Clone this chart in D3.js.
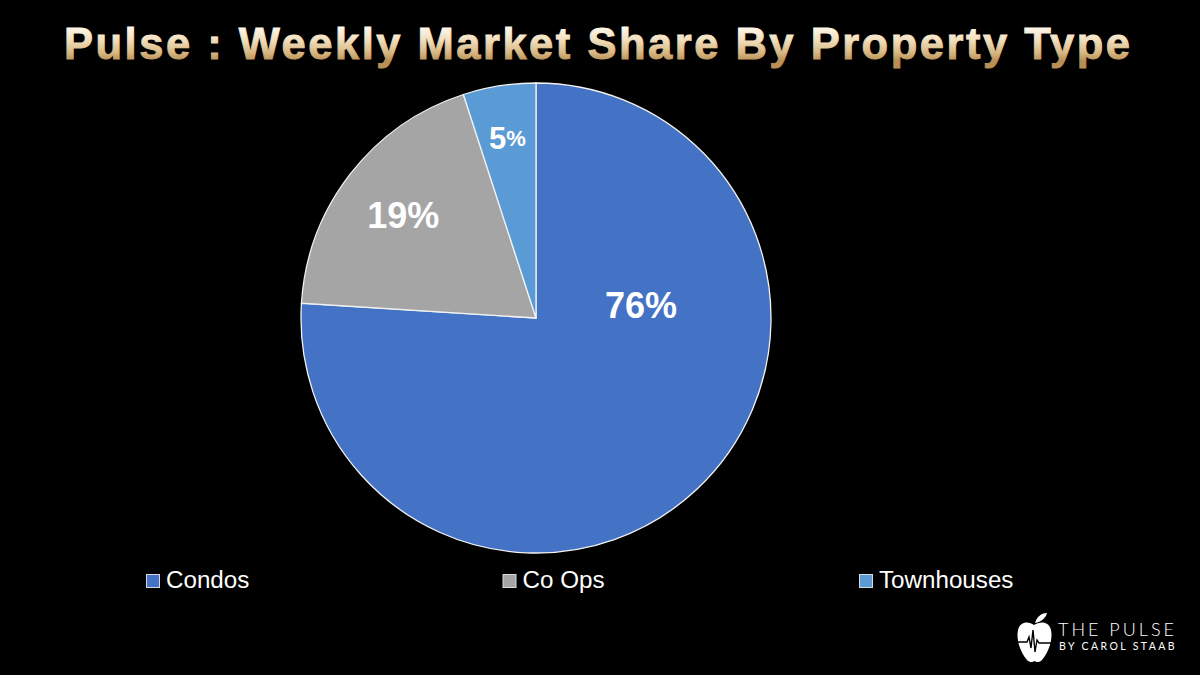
<!DOCTYPE html>
<html><head><meta charset="utf-8">
<script src="https://cdn.jsdelivr.net/npm/d3@7"></script>
<style>html,body{margin:0;padding:0;background:#000;}svg{display:block;}</style>
</head><body>
<svg id="c" width="1200" height="675"></svg>
<script>
const categories = ["Condos", "Co Ops", "Townhouses"];
const values = [76, 19, 5];
const colors = ["#4472C4", "#A5A5A5", "#5B9BD5"];
const titleText = "Pulse : Weekly Market Share By Property Type";

const svg = d3.select("#c");
svg.append("rect").attr("width",1200).attr("height",675).attr("fill","#000");

const defs = svg.append("defs");
const g1 = defs.append("linearGradient").attr("id","gold")
  .attr("gradientUnits","userSpaceOnUse").attr("x1",0).attr("x2",0).attr("y1",26).attr("y2",61);
g1.append("stop").attr("offset","0%").attr("stop-color","#fffaf0");
g1.append("stop").attr("offset","40%").attr("stop-color","#f1dfbd");
g1.append("stop").attr("offset","75%").attr("stop-color","#d9b985");
g1.append("stop").attr("offset","100%").attr("stop-color","#b88f55");

svg.append("text").attr("x",64).attr("y",59)
  .attr("textLength",1066).attr("lengthAdjust","spacing")
  .attr("font-family","Liberation Sans, Arial, sans-serif").attr("font-weight","bold")
  .attr("font-size",43.5).attr("fill","url(#gold)")
  .attr("stroke","url(#gold)").attr("stroke-width",0.9)
  .text(titleText);

// pie
const cx = 536, cy = 318, r = 235;
const pie = d3.pie().sort(null).value(d=>d);
const arcs = pie(values);
const arc = d3.arc().innerRadius(0).outerRadius(r);
const pg = svg.append("g").attr("transform",`translate(${cx},${cy})`);
pg.selectAll("path").data(arcs).enter().append("path")
  .attr("d",arc).attr("fill",(d,i)=>colors[i])
  .attr("stroke","#f2f2f2").attr("stroke-width",1.3);

// labels
const fmt = v => Math.round(v/d3.sum(values)*100);
arcs.forEach((d,i)=>{
  let pos;
  if (i === 0) {
    const a = d.startAngle + (d.endAngle-d.startAngle)*0.305;
    const rr = r*0.45;
    pos = [Math.sin(a)*rr, -Math.cos(a)*rr];
  } else {
    const rr = i===1 ? r*0.715 : r*0.777;
    pos = d3.arc().innerRadius(rr).outerRadius(rr).centroid(d);
  }
  const t = pg.append("text").attr("x",pos[0]).attr("y",pos[1])
    .attr("text-anchor","middle").attr("dominant-baseline","central")
    .attr("font-family","Liberation Sans, Arial, sans-serif").attr("font-weight","bold")
    .attr("fill","#fff");
  if (i === 2) {
    t.attr("font-size",31);
    t.append("tspan").text(fmt(d.data));
    t.append("tspan").attr("font-size",22).text("%");
  } else {
    t.attr("font-size",36).text(fmt(d.data)+"%");
  }
});

// legend
const legX = d3.scalePoint().domain(categories).range([146, 859]);
const lg = svg.append("g");
categories.forEach((c,i)=>{
  const x = legX(c);
  lg.append("rect").attr("x",x+0.5).attr("y",574.5).attr("width",13).attr("height",13)
    .attr("fill",colors[i]).attr("stroke","#d9d9d9").attr("stroke-width",1);
  lg.append("text").attr("x",x+20).attr("y",588)
    .attr("font-family","Liberation Sans, Arial, sans-serif").attr("font-size",24.2)
    .attr("fill","#fff").text(c);
});

// logo
const logo = svg.append("g").attr("transform","translate(1017,612)");
logo.append("path").attr("fill","#fff")
  .attr("d","M17,13 C12,9 3,9 1,18 C-1,27 3,40 10,48 C13,51 16,50 17.5,49 C19,50 22,51 25,48 C32,40 36,27 34,18 C32,9 23,9 17,13 Z");
logo.append("path").attr("fill","#fff")
  .attr("d","M18,11 C20,4 25,1 30,1 C29,6 24,10 18,11 Z");
logo.append("path").attr("fill","none").attr("stroke","#000").attr("stroke-width",1.4)
  .attr("d","M0,30 L10,30 L12,25 L14,36 L16,18 L18,40 L20,28 L22,31 L36,31");
svg.append("text").attr("x",1058).attr("y",636)
  .attr("font-family","Lato, sans-serif").attr("font-weight",300).attr("font-size",18)
  .attr("letter-spacing",3).attr("fill","#fff").text("THE PULSE");
svg.append("text").attr("x",1059).attr("y",650)
  .attr("font-family","Lato, sans-serif").attr("font-weight",400).attr("font-size",10.5)
  .attr("letter-spacing",2.4).attr("fill","#fff").text("BY CAROL STAAB");
</script>
</body></html>
